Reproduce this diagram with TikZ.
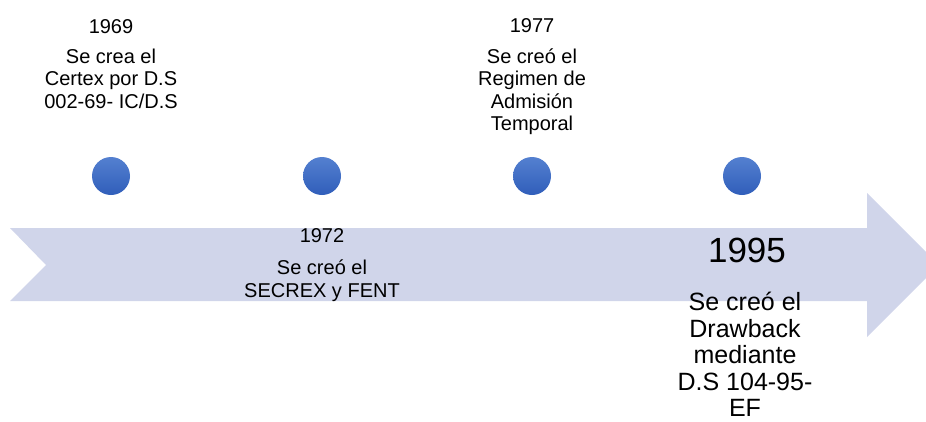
\documentclass[tikz,border=0pt]{standalone}
\usepackage{fontspec}
\setmainfont{Liberation Sans}
\usepackage{tikz}

\definecolor{bandfill}{RGB}{208,213,234}
\definecolor{dottop}{RGB}{84,128,208}
\definecolor{dotbottom}{RGB}{48,94,186}

\begin{document}
\begin{tikzpicture}[x=1pt,y=-1pt,
    year/.style={anchor=base,inner sep=0pt,font=\fontsize{20}{22.5}\selectfont},
    bigyear/.style={anchor=base,inner sep=0pt,font=\fontsize{35}{40}\selectfont},
    event/.style={anchor=north,inner sep=0pt,align=center,font=\fontsize{20}{22.5}\selectfont},
    bigevent/.style={anchor=north,inner sep=0pt,align=center,font=\fontsize{25}{26.5}\selectfont},
    dot/.style={circle,minimum size=38pt,inner sep=0pt,top color=dottop,bottom color=dotbottom}]
    \useasboundingbox (0,0) rectangle (926,421);
    \clip (0,0) rectangle (926,421);

    \fill[bandfill] (10,228) -- (867,228) -- (867,193) -- (939,265) -- (867,337)
      -- (867,301) -- (10,301) -- (46,265) -- cycle;

    \node[dot] (d1969) at (111,176) {};
    \node[dot] (d1972) at (322,176) {};
    \node[dot] (d1977) at (532,176) {};
    \node[dot] (d1995) at (742,176) {};

    \node[year] (y1969) at (111,33) {1969};
    \node[event] (t1969) at (111,48.5) {Se crea el\\Certex por D.S\\002-69- IC/D.S};

    \node[year] (y1977) at (532,32) {1977};
    \node[event] (t1977) at (532,48.5) {Se creó el\\Regimen de\\Admisión\\Temporal};

    \node[year] (y1972) at (322,242) {1972};
    \node[event] (t1972) at (322,260) {Se creó el\\SECREX y FENT};

    \node[bigyear] (y1995) at (747,262) {1995};
    \node[bigevent] (t1995) at (745,292) {Se creó el\\Drawback\\mediante\\D.S 104-95-\\EF};
  \end{tikzpicture}
\end{document}
